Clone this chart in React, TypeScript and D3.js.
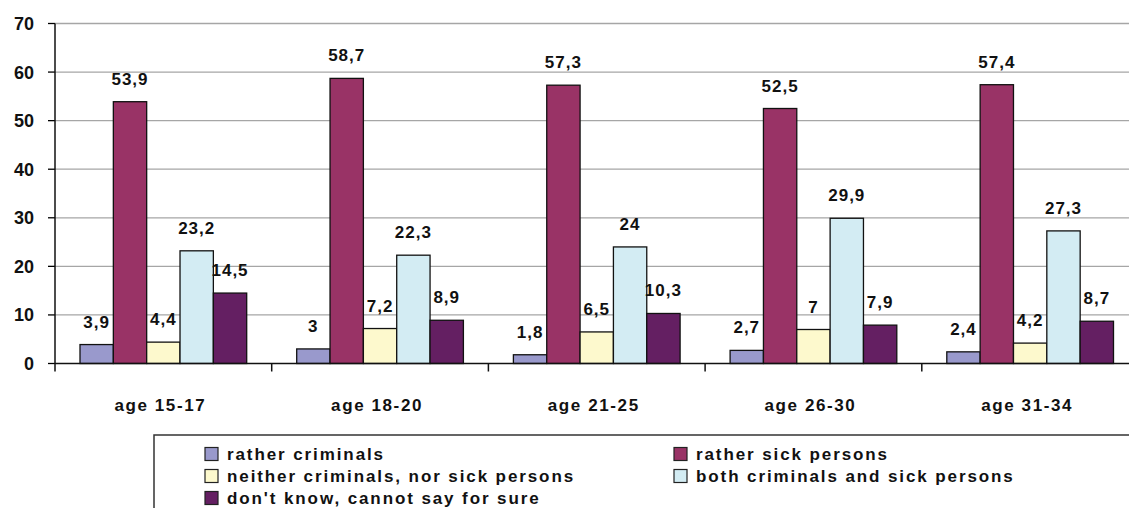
import React from "react";
import * as d3 from "d3";

const categories = ["age 15-17", "age 18-20", "age 21-25", "age 26-30", "age 31-34"];
const seriesNames = [
  "rather criminals",
  "rather sick persons",
  "neither criminals, nor sick persons",
  "both criminals and sick persons",
  "don't know, cannot say for sure",
];
const ratherCriminals = [3.9, 3, 1.8, 2.7, 2.4];
const ratherSick = [53.9, 58.7, 57.3, 52.5, 57.4];
const neither = [4.4, 7.2, 6.5, 7, 4.2];
const both = [23.2, 22.3, 24, 29.9, 27.3];
const dontKnow = [14.5, 8.9, 10.3, 7.9, 8.7];
const seriesValues = [ratherCriminals, ratherSick, neither, both, dontKnow];
const colors = ["#9999CC", "#993366", "#FDF9CD", "#D3ECF3", "#641F62"];
const yTicks = [0, 10, 20, 30, 40, 50, 60, 70];

const W = 1129;
const H = 508;
const FONT = "'Liberation Sans', Arial, sans-serif";

export default function App() {
  const left = 55;
  const groupW = 216.7;
  const x0 = d3
    .scaleBand<string>()
    .domain(categories)
    .range([left, left + groupW * categories.length])
    .padding(0);
  const bw = x0.bandwidth();
  const x1 = d3
    .scaleBand<string>()
    .domain(seriesNames)
    .range([25, bw - 25])
    .padding(0);
  const y = d3.scaleLinear().domain([0, 70]).range([363.5, 23.5]);
  const fmt = (v: number) => String(v).replace(".", ",");

  return (
    <svg
      width={W}
      height={H}
      style={{ position: "absolute", left: 0, top: 0, background: "#fff" }}
      fontFamily={FONT}
    >
      {/* gridlines */}
      {yTicks.slice(1).map((t) => (
        <line key={"g" + t} x1={left} x2={W + 20} y1={y(t)} y2={y(t)} stroke="#A6A6A6" strokeWidth={1.3} />
      ))}
      {/* y ticks and labels */}
      {yTicks.map((t) => (
        <g key={"t" + t}>
          <line x1={left - 7} x2={left} y1={y(t)} y2={y(t)} stroke="#000" strokeWidth={1.3} />
          <text x={34} y={y(t)} dy="0.36em" textAnchor="end" fontSize={18} fontWeight="bold" fill="#111">
            {t}
          </text>
        </g>
      ))}
      {/* bars */}
      {categories.map((c, ci) => (
        <g key={c} transform={`translate(${x0(c)},0)`}>
          {seriesNames.map((s, si) => {
            const v = seriesValues[si][ci];
            const bx = x1(s)!;
            return (
              <g key={s}>
                <rect
                  x={bx}
                  y={y(v)}
                  width={x1.bandwidth()}
                  height={y(0) - y(v)}
                  fill={colors[si]}
                  stroke="#111"
                  strokeWidth={1.3}
                />
                <text
                  x={bx + x1.bandwidth() / 2}
                  y={y(v) - 17}
                  textAnchor="middle"
                  fontSize={17}
                  fontWeight="bold"
                  letterSpacing={1}
                  fill="#111"
                >
                  {fmt(v)}
                </text>
              </g>
            );
          })}
        </g>
      ))}
      {/* axes */}
      <line x1={left} x2={W + 20} y1={y(0)} y2={y(0)} stroke="#111" strokeWidth={1.5} />
      <line x1={left} x2={left} y1={y(70)} y2={y(0) + 8} stroke="#111" strokeWidth={1.5} />
      {categories.map((c) => (
        <line
          key={"ct" + c}
          x1={x0(c)! + bw}
          x2={x0(c)! + bw}
          y1={y(0)}
          y2={y(0) + 8}
          stroke="#111"
          strokeWidth={1.5}
        />
      ))}
      {categories.map((c) => (
        <text
          key={"cl" + c}
          x={x0(c)! + bw / 2 - 3}
          y={405}
          dy="0.36em"
          textAnchor="middle"
          fontSize={17}
          fontWeight="bold"
          letterSpacing={1.6}
          fill="#111"
        >
          {c}
        </text>
      ))}
      {/* legend */}
      <rect x={154} y={435} width={1100} height={120} fill="#fff" stroke="#333" strokeWidth={1.5} />
      {seriesNames.map((s, i) => {
        const col = i % 2;
        const row = Math.floor(i / 2);
        const sx = col === 0 ? 205 : 674;
        const cy = 454 + row * 22;
        return (
          <g key={"l" + s}>
            <rect x={sx} y={cy - 6.5} width={13} height={13} fill={colors[i]} stroke="#222" strokeWidth={1.2} />
            <text
              x={sx + 22}
              y={cy}
              dy="0.34em"
              fontSize={17}
              fontWeight="bold"
              letterSpacing={1.9}
              fill="#111"
            >
              {s}
            </text>
          </g>
        );
      })}
    </svg>
  );
}
